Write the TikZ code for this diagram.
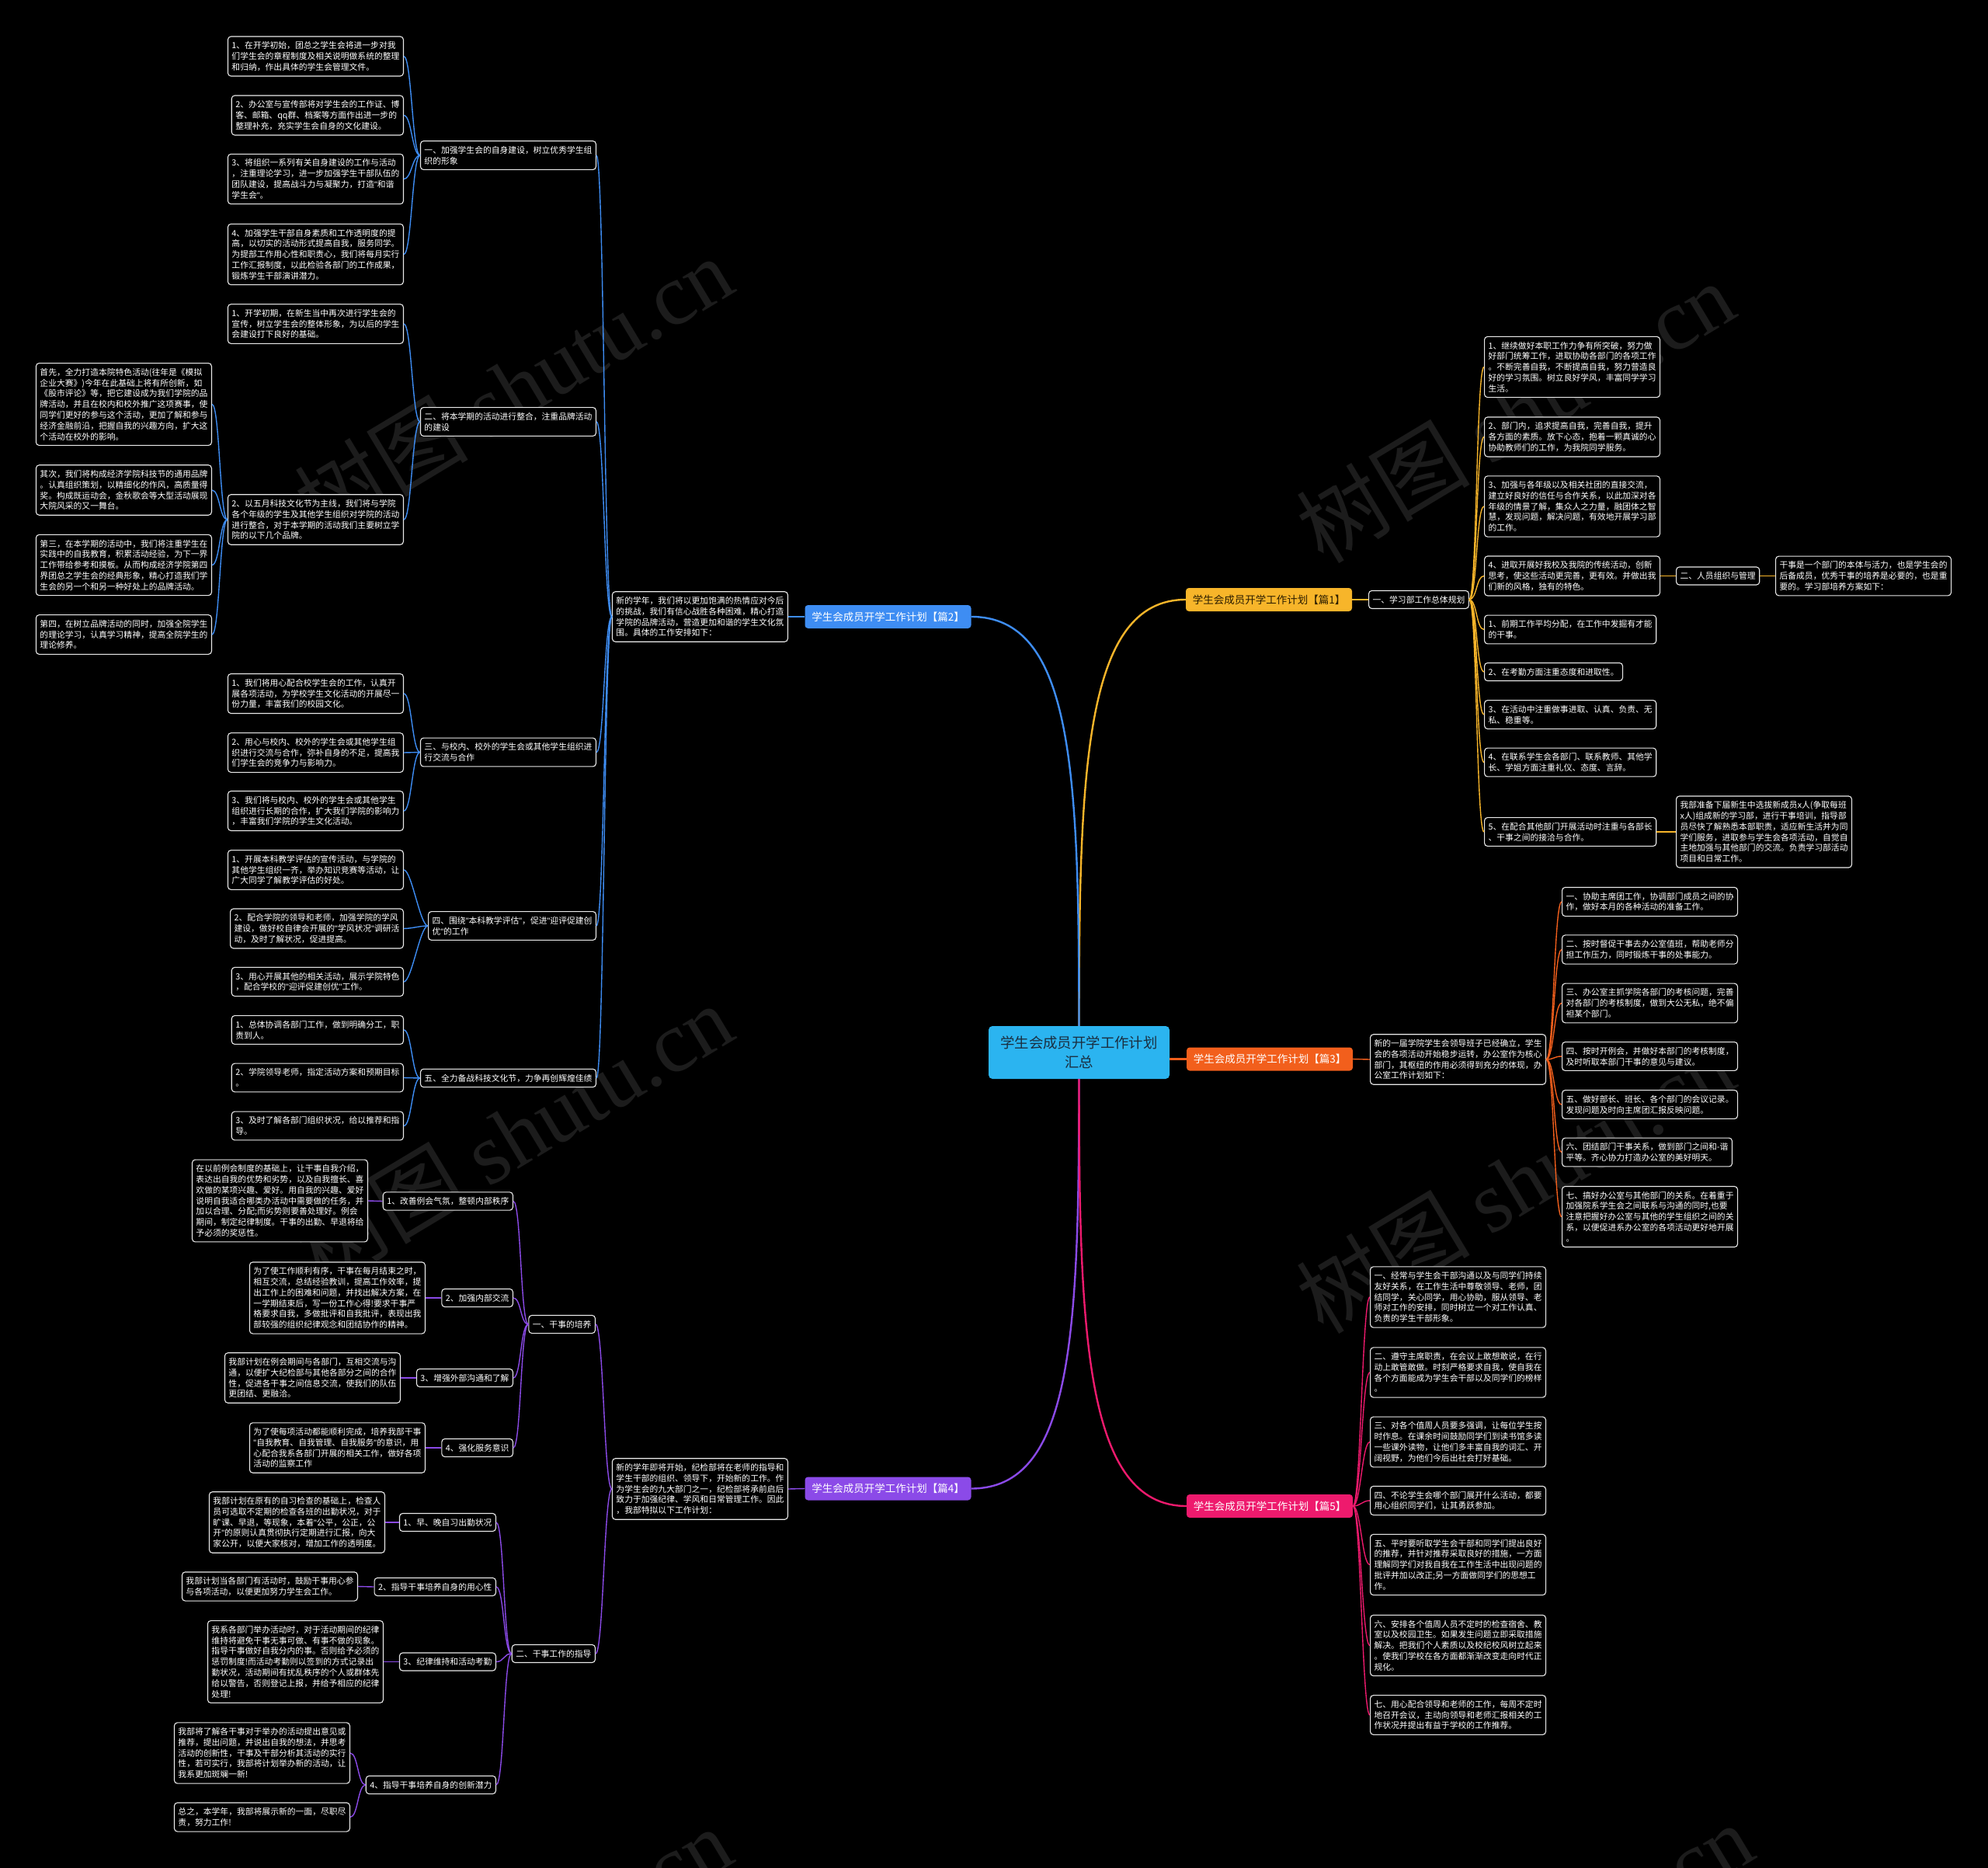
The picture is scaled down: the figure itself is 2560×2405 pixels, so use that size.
\documentclass[tikz,border=0pt]{standalone}
\usepackage{fontspec}
\setmainfont{Noto Sans CJK SC}
\newfontfamily\wmserif{Liberation Serif}
\newfontfamily\qfont{Liberation Sans}
\newcommand\qq{{\qfont"}}
\definecolor{cBlue}{HTML}{3E8DF3}
\definecolor{cYel}{HTML}{F7B52A}
\definecolor{cOra}{HTML}{F25F1C}
\definecolor{cPur}{HTML}{8B4AE8}
\definecolor{cPin}{HTML}{EE1A6D}
\definecolor{cCen}{HTML}{2BB4F0}
\definecolor{cCenT}{HTML}{1A2E40}
\definecolor{cYelT}{HTML}{2B1D00}
\definecolor{cWM}{HTML}{1C1C1C}
\definecolor{cBord}{HTML}{E8E8E8}
\newcommand\leaffont{\fontsize{10.8}{13.8}\selectfont}
\newcommand\labfont{\fontsize{13.5}{16}\selectfont}
\newcommand\cenfont{\fontsize{18.4}{25}\selectfont}
\newcommand\mmL[3]{\draw[#1] (#2.west) .. controls +(-10,0) and +(10,0) .. (#3.east);}
\newcommand\mmR[3]{\draw[#1] (#2.east) .. controls +(10,0) and +(-10,0) .. (#3.west);}
\tikzset{
  leaf/.style={draw=cBord, fill=black, text=white, line width=1.1pt, rounded corners=4pt,
    font=\leaffont, align=left, anchor=west, inner xsep=5pt, inner ysep=6.5pt},
  leafL/.style={leaf, anchor=east},
  lab/.style={rounded corners=4pt, font=\labfont, minimum height=30pt, minimum width=214pt,
    inner xsep=4pt, text=white, align=center},
  wm/.style={text=cWM, font=\fontsize{112}{114}\selectfont, rotate=31},
  lnB/.style={cBlue, line width=1.4pt},
  lnY/.style={cYel, line width=1.4pt},
  lnO/.style={cOra, line width=1.4pt},
  lnP/.style={cPur, line width=1.4pt},
  lnK/.style={cPin, line width=1.4pt},
}
\begin{document}
\begin{tikzpicture}[x=1pt,y=-1pt]
\useasboundingbox (0,0) rectangle (2560,2405);
\fill[black] (0,0) rectangle (2560,2405);
% watermarks
\begin{scope}
\clip (0,0) rectangle (2560,2405);
\node[wm] (wm1) at (661,498) {树图 {\wmserif shutu.cn}};
\node[wm] (wm2) at (1951,530) {树图 {\wmserif shutu.cn}};
\node[wm] (wm3) at (661,1460) {树图 {\wmserif shutu.cn}};
\node[wm] (wm4) at (1951,1522) {树图 {\wmserif shutu.cn}};
\node[wm] (wm5) at (660,2520) {树图 {\wmserif shutu.cn}};
\node[wm] (wm6) at (1975,2515) {树图 {\wmserif shutu.cn}};
\end{scope}

% center
\node[fill=cCen, rounded corners=5pt, minimum width=233pt, minimum height=68pt, font=\cenfont,
  text=cCenT, align=center, inner sep=2pt] (c) at (1389.5,1355) {学生会成员开学工作计划\\汇总};

% labels
\node[lab, fill=cYel, text=cYelT] (l1) at (1634,772) {学生会成员开学工作计划【篇1】};
\node[lab, fill=cBlue] (l2) at (1143.5,794) {学生会成员开学工作计划【篇2】};
\node[lab, fill=cOra] (l3) at (1635,1363.5) {学生会成员开学工作计划【篇3】};
\node[lab, fill=cPur] (l4) at (1143.5,1916.5) {学生会成员开学工作计划【篇4】};
\node[lab, fill=cPin] (l5) at (1635,1939) {学生会成员开学工作计划【篇5】};

% ===== Branch 1 =====
\node[leaf] (s1) at (1762,772) {一、学习部工作总体规划};
\node[leaf] (p1) at (1911,472.5) {1、继续做好本职工作力争有所突破，努力做\\好部门统筹工作，进取协助各部门的各项工作\\。不断完善自我，不断提高自我，努力营造良\\好的学习氛围。树立良好学风，丰富同学学习\\生活。};
\node[leaf] (p2) at (1911,562.5) {2、部门内，追求提高自我，完善自我，提升\\各方面的素质。放下心态，抱着一颗真诚的心\\协助教师们的工作，为我院同学服务。};
\node[leaf] (p3) at (1911,652) {3、加强与各年级以及相关社团的直接交流，\\建立好良好的信任与合作关系，以此加深对各\\年级的情景了解，集众人之力量，融团体之智\\慧，发现问题，解决问题，有效地开展学习部\\的工作。};
\node[leaf] (p4) at (1911,741.5) {4、进取开展好我校及我院的传统活动，创新\\思考，使这些活动更完善，更有效。并做出我\\们新的风格，独有的特色。};
\node[leaf] (p4a) at (2158,741.5) {二、人员组织与管理};
\node[leaf] (p4b) at (2286,741.5) {干事是一个部门的本体与活力，也是学生会的\\后备成员，优秀干事的培养是必要的，也是重\\要的。学习部培养方案如下：};
\node[leaf] (p5) at (1911,810.5) {1、前期工作平均分配，在工作中发掘有才能\\的干事。};
\node[leaf] (p6) at (1911,865) {2、在考勤方面注重态度和进取性。};
\node[leaf] (p7) at (1911,920) {3、在活动中注重做事进取、认真、负责、无\\私、稳重等。};
\node[leaf] (p8) at (1911,981.5) {4、在联系学生会各部门、联系教师、其他学\\长、学姐方面注重礼仪、态度、言辞。};
\node[leaf] (p9) at (1911,1071) {5、在配合其他部门开展活动时注重与各部长\\、干事之间的接洽与合作。};
\node[leaf] (p9a) at (2158,1071) {我部准备下届新生中选拔新成员x人(争取每班\\x人)组成新的学习部，进行干事培训，指导部\\员尽快了解熟悉本部职责，适应新生活并为同\\学们服务，进取参与学生会各项活动，自觉自\\主地加强与其他部门的交流。负责学习部活动\\项目和日常工作。};

% ===== Branch 2 =====
\node[leafL] (i2) at (1015,794) {新的学年，我们将以更加饱满的热情应对今后\\的挑战，我们有信心战胜各种困难，精心打造\\学院的品牌活动，营造更加和谐的学生文化氛\\围。具体的工作安排如下：};
\node[leafL] (s21) at (768,200) {一、加强学生会的自身建设，树立优秀学生组\\织的形象};
\node[leafL] (a1) at (520,72.5) {1、在开学初始，团总之学生会将进一步对我\\们学生会的章程制度及相关说明做系统的整理\\和归纳，作出具体的学生会管理文件。};
\node[leafL] (a2) at (520,148.5) {2、办公室与宣传部将对学生会的工作证、博\\客、邮箱、qq群、档案等方面作出进一步的\\整理补充，充实学生会自身的文化建设。};
\node[leafL] (a3) at (520,230.5) {3、将组织一系列有关自身建设的工作与活动\\，注重理论学习，进一步加强学生干部队伍的\\团队建设，提高战斗力与凝聚力，打造\qq 和谐\\学生会\qq。};
\node[leafL] (a4) at (520,327.5) {4、加强学生干部自身素质和工作透明度的提\\高，以切实的活动形式提高自我，服务同学。\\为提部工作用心性和职责心，我们将每月实行\\工作汇报制度，以此检验各部门的工作成果，\\锻炼学生干部演讲潜力。};
\node[leafL] (s22) at (768,543) {二、将本学期的活动进行整合，注重品牌活动\\的建设};
\node[leafL] (b1) at (520,417) {1、开学初期，在新生当中再次进行学生会的\\宣传，树立学生会的整体形象，为以后的学生\\会建设打下良好的基础。};
\node[leafL] (b2) at (520,669) {2、以五月科技文化节为主线，我们将与学院\\各个年级的学生及其他学生组织对学院的活动\\进行整合，对于本学期的活动我们主要树立学\\院的以下几个品牌。};
\node[leafL] (b2a) at (273,520.5) {首先，全力打造本院特色活动(往年是《模拟\\企业大赛》)今年在此基础上将有所创新，如\\《股市评论》等，把它建设成为我们学院的品\\牌活动，并且在校内和校外推广这项赛事，使\\同学们更好的参与这个活动，更加了解和参与\\经济金融前沿，把握自我的兴趣方向，扩大这\\个活动在校外的影响。};
\node[leafL] (b2b) at (273,631) {其次，我们将构成经济学院科技节的通用品牌\\。认真组织策划，以精细化的作风，高质量得\\奖。构成既运动会，金秋歌会等大型活动展现\\大院风采的又一舞台。};
\node[leafL] (b2c) at (273,727.5) {第三，在本学期的活动中，我们将注重学生在\\实践中的自我教育，积累活动经验，为下一界\\工作带给参考和摸板。从而构成经济学院第四\\界团总之学生会的经典形象，精心打造我们学\\生会的另一个和另一种好处上的品牌活动。};
\node[leafL] (b2d) at (273,817) {第四，在树立品牌活动的同时，加强全院学生\\的理论学习，认真学习精神，提高全院学生的\\理论修养。};
\node[leafL] (s23) at (768,968.5) {三、与校内、校外的学生会或其他学生组织进\\行交流与合作};
\node[leafL] (d1) at (520,893) {1、我们将用心配合校学生会的工作，认真开\\展各项活动，为学校学生文化活动的开展尽一\\份力量，丰富我们的校园文化。};
\node[leafL] (d2) at (520,969) {2、用心与校内、校外的学生会或其他学生组\\织进行交流与合作，弥补自身的不足，提高我\\们学生会的竞争力与影响力。};
\node[leafL] (d3) at (520,1044) {3、我们将与校内、校外的学生会或其他学生\\组织进行长期的合作，扩大我们学院的影响力\\，丰富我们学院的学生文化活动。};
\node[leafL] (s24) at (768,1192) {四、围绕\qq 本科教学评估\qq，促进\qq 迎评促建创\\优\qq 的工作};
\node[leafL] (e1) at (520,1120) {1、开展本科教学评估的宣传活动，与学院的\\其他学生组织一齐，举办知识竞赛等活动，让\\广大同学了解教学评估的好处。};
\node[leafL] (e2) at (520,1195.5) {2、配合学院的领导和老师，加强学院的学风\\建设，做好校自律会开展的\qq 学风状况\qq 调研活\\动，及时了解状况，促进提高。};
\node[leafL] (e3) at (520,1264) {3、用心开展其他的相关活动，展示学院特色\\，配合学校的\qq 迎评促建创优\qq 工作。};
\node[leafL] (s25) at (768,1388) {五、全力备战科技文化节，力争再创辉煌佳绩};
\node[leafL] (f1) at (520,1326) {1、总体协调各部门工作，做到明确分工，职\\责到人。};
\node[leafL] (f2) at (520,1387.5) {2、学院领导老师，指定活动方案和预期目标\\。};
\node[leafL] (f3) at (520,1449.5) {3、及时了解各部门组织状况，给以推荐和指\\导。};

% ===== Branch 3 =====
\node[leaf] (i3) at (1764,1364) {新的一届学院学生会领导班子已经确立，学生\\会的各项活动开始稳步运转，办公室作为核心\\部门，其枢纽的作用必须得到充分的体现，办\\公室工作计划如下：};
\node[leaf] (o1) at (2011,1161) {一、协助主席团工作，协调部门成员之间的协\\作，做好本月的各种活动的准备工作。};
\node[leaf] (o2) at (2011,1222.5) {二、按时督促干事去办公室值班，帮助老师分\\担工作压力，同时锻炼干事的处事能力。};
\node[leaf] (o3) at (2011,1291.5) {三、办公室主抓学院各部门的考核问题，完善\\对各部门的考核制度，做到大公无私，绝不偏\\袒某个部门。};
\node[leaf] (o4) at (2011,1360) {四、按时开例会，并做好本部门的考核制度，\\及时听取本部门干事的意见与建议。};
\node[leaf] (o5) at (2011,1422) {五、做好部长、班长、各个部门的会议记录。\\发现问题及时向主席团汇报反映问题。};
\node[leaf] (o6) at (2011,1483.5) {六、团结部门干事关系，做到部门之间和-谐\\平等。齐心协力打造办公室的美好明天。};
\node[leaf] (o7) at (2011,1566.5) {七、搞好办公室与其他部门的关系。在着重于\\加强院系学生会之间联系与沟通的同时,也要\\注意把握好办公室与其他的学生组织之间的关\\系，以便促进系办公室的各项活动更好地开展\\。};

% ===== Branch 4 =====
\node[leafL] (i4) at (1015,1917) {新的学年即将开始，纪检部将在老师的指导和\\学生干部的组织、领导下，开始新的工作。作\\为学生会的九大部门之一，纪检部将承前启后\\致力于加强纪律、学风和日常管理工作。因此\\，我部特拟以下工作计划：};
\node[leafL] (g1) at (767,1705) {一、干事的培养};
\node[leafL] (g11) at (661,1546.5) {1、改善例会气氛，整顿内部秩序};
\node[leafL] (g11a) at (474,1546) {在以前例会制度的基础上，让干事自我介绍，\\表达出自我的优势和劣势，以及自我擅长、喜\\欢做的某项兴趣、爱好。用自我的兴趣、爱好\\说明自我适合哪类办活动中需要做的任务，并\\加以合理、分配;而劣势则要善处理好。例会\\期间，制定纪律制度。干事的出勤、早退将给\\予必须的奖惩性。};
\node[leafL] (g12) at (661,1671) {2、加强内部交流};
\node[leafL] (g12a) at (548,1671) {为了使工作顺利有序，干事在每月结束之时，\\相互交流，总结经验教训，提高工作效率，提\\出工作上的困难和问题，并找出解决方案，在\\一学期结束后，写一份工作心得!要求干事严\\格要求自我，多做批评和自我批评，表现出我\\部较强的组织纪律观念和团结协作的精神。};
\node[leafL] (g13) at (661,1774) {3、增强外部沟通和了解};
\node[leafL] (g13a) at (516,1774) {我部计划在例会期间与各部门，互相交流与沟\\通，以便扩大纪检部与其他各部分之间的合作\\性，促进各干事之间信息交流，使我们的队伍\\更团结、更融洽。};
\node[leafL] (g14) at (661,1864) {4、强化服务意识};
\node[leafL] (g14a) at (548,1864) {为了使每项活动都能顺利完成，培养我部干事\\\qq 自我教育、自我管理、自我服务\qq 的意识，用\\心配合我系各部门开展的相关工作，做好各项\\活动的监察工作};
\node[leafL] (g2) at (767,2129) {二、干事工作的指导};
\node[leafL] (g21) at (639,1960) {1、早、晚自习出勤状况};
\node[leafL] (g21a) at (496,1960) {我部计划在原有的自习检查的基础上，检查人\\员可选取不定期的检查各班的出勤状况，对于\\旷课、早退，等现象，本着\qq 公平，公正，公\\开\qq 的原则认真贯彻执行定期进行汇报，向大\\家公开，以便大家核对，增加工作的透明度。};
\node[leafL] (g22) at (639,2043) {2、指导干事培养自身的用心性};
\node[leafL] (g22a) at (461,2042.5) {我部计划当各部门有活动时，鼓励干事用心参\\与各项活动，以便更加努力学生会工作。};
\node[leafL] (g23) at (639,2139.5) {3、纪律维持和活动考勤};
\node[leafL] (g23a) at (494,2139.5) {我系各部门举办活动时，对于活动期间的纪律\\维持将避免干事无事可做、有事不做的现象。\\指导干事做好自我分内的事。否则给予必须的\\惩罚制度!而活动考勤则以签到的方式记录出\\勤状况，活动期间有扰乱秩序的个人或群体先\\给以警告，否则登记上报，并给予相应的纪律\\处理!};
\node[leafL] (g24) at (639,2298) {4、指导干事培养自身的创新潜力};
\node[leafL] (g24a) at (451,2257) {我部将了解各干事对于举办的活动提出意见或\\推荐，提出问题，并说出自我的想法，并思考\\活动的创新性，干事及干部分析其活动的实行\\性，若可实行，我部将计划举办新的活动，让\\我系更加斑斓一新!};
\node[leafL] (g24b) at (451,2339.5) {总之，本学年，我部将展示新的一面，尽职尽\\责，努力工作!};

% ===== Branch 5 =====
\node[leaf] (k1) at (1764,1670) {一、经常与学生会干部沟通以及与同学们持续\\友好关系，在工作生活中尊敬领导、老师，团\\结同学，关心同学，用心协助，服从领导、老\\师对工作的安排，同时树立一个对工作认真、\\负责的学生干部形象。};
\node[leaf] (k2) at (1764,1767) {二、遵守主席职责，在会议上敢想敢说，在行\\动上敢管敢做。时刻严格要求自我，使自我在\\各个方面能成为学生会干部以及同学们的榜样\\。};
\node[leaf] (k3) at (1764,1856.5) {三、对各个值周人员要多强调，让每位学生按\\时作息。在课余时间鼓励同学们到读书馆多读\\一些课外读物，让他们多丰富自我的词汇、开\\阔视野，为他们今后出社会打好基础。};
\node[leaf] (k4) at (1764,1932) {四、不论学生会哪个部门展开什么活动，都要\\用心组织同学们，让其勇跃参加。};
\node[leaf] (k5) at (1764,2014.5) {五、平时要听取学生会干部和同学们提出良好\\的推荐，并针对推荐采取良好的措施，一方面\\理解同学们对我自我在工作生活中出现问题的\\批评并加以改正;另一方面做同学们的思想工\\作。};
\node[leaf] (k6) at (1764,2118.5) {六、安排各个值周人员不定时的检查宿舍、教\\室以及校园卫生。如果发生问题立即采取措施\\解决。把我们个人素质以及校纪校风树立起来\\。使我们学校在各方面都渐渐改变走向时代正\\规化。};
\node[leaf] (k7) at (1764,2208) {七、用心配合领导和老师的工作，每周不定时\\地召开会议，主动向领导和老师汇报相关的工\\作状况并提出有益于学校的工作推荐。};

% ===== main connectors =====
\draw[cYel, line width=2.4pt] (c.north) .. controls +(0,-330) and +(-130,0) .. (l1.west);
\draw[cBlue, line width=2.4pt] (c.north) .. controls +(0,-330) and +(130,0) .. (l2.east);
\draw[cOra, line width=2.4pt] (l3.west -| c.east) -- (l3.west);
\draw[cPur, line width=2.4pt] (c.south) .. controls +(0,330) and +(130,0) .. (l4.east);
\draw[cPin, line width=2.4pt] (c.south) .. controls +(0,330) and +(-130,0) .. (l5.west);

% branch 1 connectors
\draw[lnY] (l1.east) -- (s1.west);
\foreach \t in {p1,p2,p3,p4,p5,p6,p7,p8,p9} {\mmR{lnY}{s1}{\t}}
\mmR{lnY}{p4}{p4a}
\mmR{lnY}{p4a}{p4b}
\mmR{lnY}{p9}{p9a}

% branch 2 connectors
\draw[lnB] (l2.west) -- (i2.east);
\foreach \t in {s21,s22,s23,s24,s25} {\mmL{lnB}{i2}{\t}}
\foreach \t in {a1,a2,a3,a4} {\mmL{lnB}{s21}{\t}}
\foreach \t in {b1,b2} {\mmL{lnB}{s22}{\t}}
\foreach \t in {b2a,b2b,b2c,b2d} {\mmL{lnB}{b2}{\t}}
\foreach \t in {d1,d2,d3} {\mmL{lnB}{s23}{\t}}
\foreach \t in {e1,e2,e3} {\mmL{lnB}{s24}{\t}}
\foreach \t in {f1,f2,f3} {\mmL{lnB}{s25}{\t}}

% branch 3 connectors
\draw[lnO] (l3.east) -- (i3.west);
\foreach \t in {o1,o2,o3,o4,o5,o6,o7} {\mmR{lnO}{i3}{\t}}

% branch 4 connectors
\draw[lnP] (l4.west) -- (i4.east);
\foreach \t in {g1,g2} {\mmL{lnP}{i4}{\t}}
\foreach \t in {g11,g12,g13,g14} {\mmL{lnP}{g1}{\t}}
\mmL{lnP}{g11}{g11a}
\mmL{lnP}{g12}{g12a}
\mmL{lnP}{g13}{g13a}
\mmL{lnP}{g14}{g14a}
\foreach \t in {g21,g22,g23,g24} {\mmL{lnP}{g2}{\t}}
\mmL{lnP}{g21}{g21a}
\mmL{lnP}{g22}{g22a}
\mmL{lnP}{g23}{g23a}
\mmL{lnP}{g24}{g24a}
\mmL{lnP}{g24}{g24b}

% branch 5 connectors
\foreach \t in {k1,k2,k3,k4,k5,k6,k7} {\mmR{lnK}{l5}{\t}}
\end{tikzpicture}
\end{document}
